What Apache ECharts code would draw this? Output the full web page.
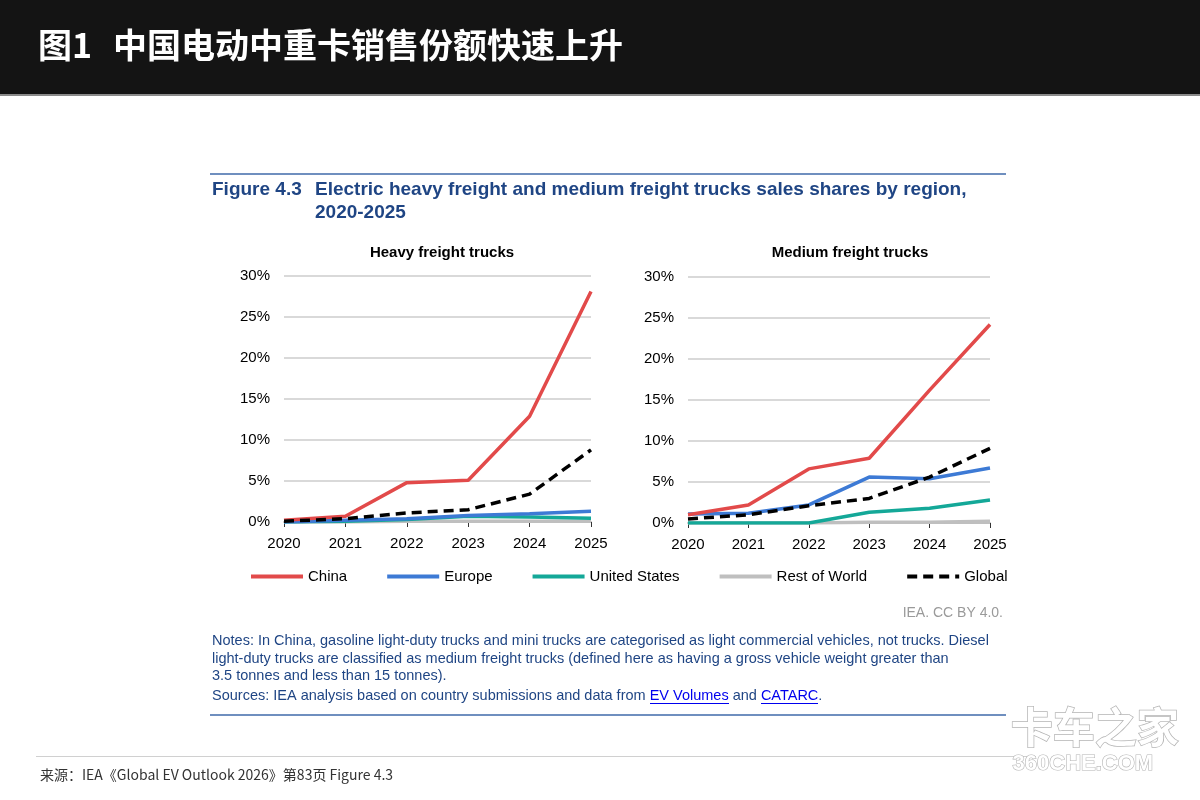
<!DOCTYPE html>
<html>
<head>
<meta charset="utf-8">
<script src="https://cdn.jsdelivr.net/npm/echarts@6/dist/echarts.min.js"></script>
<style>
  html, body { margin: 0; padding: 0; background: #fff; }
  #main { width: 1200px; height: 800px; }
</style>
</head>
<body>
<div id="main"></div>
<script>
var years = ['2020', '2021', '2022', '2023', '2024', '2025'];
var regions = ['China', 'Europe', 'United States', 'Rest of World', 'Global'];

// heavy freight trucks, %
var heavyChina  = [0.2, 0.7, 4.8, 5.1, 12.9, 28.1];
var heavyEurope = [0.0, 0.2, 0.4, 0.8, 1.0, 1.3];
var heavyUS     = [0.0, 0.1, 0.3, 0.7, 0.6, 0.45];
var heavyRow    = [0.0, 0.0, 0.1, 0.1, 0.1, 0.1];
var heavyGlobal = [0.1, 0.4, 1.1, 1.5, 3.4, 8.8];

// medium freight trucks, %
var mediumChina  = [1.0, 2.2, 6.6, 7.9, 16.2, 24.2];
var mediumEurope = [1.1, 1.2, 2.2, 5.6, 5.4, 6.7];
var mediumUS     = [0.0, 0.0, 0.0, 1.3, 1.8, 2.8];
var mediumRow    = [0.0, 0.0, 0.0, 0.1, 0.1, 0.2];
var mediumGlobal = [0.5, 1.0, 2.1, 3.0, 5.6, 9.1];

var colors = {
    'China': '#e24a4a',
    'Europe': '#3d7ad5',
    'United States': '#14a898',
    'Rest of World': '#bfbfbf',
    'Global': '#000000'
};

var font = 'Liberation Sans, Arial, sans-serif';
var cjk = 'Noto Sans CJK SC, sans-serif';
var navy = '#1f4584';

var myChart = echarts.init(document.getElementById('main'));

function xAxisFor(gridIndex) {
    return {
        type: 'category',
        gridIndex: gridIndex,
        data: years,
        boundaryGap: false,
        axisLine: { lineStyle: { color: '#bfbfbf', width: 2 } },
        axisTick: { show: true, length: 5, lineStyle: { color: '#333' } },
        axisLabel: { color: '#000', fontSize: 15, fontFamily: font, margin: 14 },
        splitLine: { show: false }
    };
}

function yAxisFor(gridIndex) {
    return {
        type: 'value',
        gridIndex: gridIndex,
        min: 0,
        max: 30,
        interval: 5,
        axisLine: { show: false },
        axisTick: { show: false },
        axisLabel: { color: '#000', fontSize: 15, fontFamily: font, margin: 14, formatter: '{value}%' },
        splitLine: { lineStyle: { color: '#d9d9d9', width: 2 } }
    };
}

function line(name, data, idx) {
    var isGlobal = name === 'Global';
    return {
        name: name,
        type: 'line',
        xAxisIndex: idx,
        yAxisIndex: idx,
        data: data,
        symbol: 'none',
        animation: false,
        z: isGlobal ? 5 : 3,
        lineStyle: {
            color: colors[name],
            width: 3.5,
            type: isGlobal ? [10, 6] : 'solid'
        },
        itemStyle: { color: colors[name] }
    };
}

option = {
    backgroundColor: '#fff',
    animation: false,
    legend: {
        data: regions,
        left: 244,
        top: 564,
        itemWidth: 52,
        itemHeight: 14,
        itemGap: 38,
        itemStyle: { opacity: 0 },
        lineStyle: { width: 4 },
        textStyle: { color: '#000', fontSize: 15, fontFamily: font }
    },
    grid: [
        { left: 284, right: 609, top: 276, bottom: 278 },
        { left: 688, right: 210, top: 277, bottom: 277 }
    ],
    xAxis: [xAxisFor(0), xAxisFor(1)],
    yAxis: [yAxisFor(0), yAxisFor(1)],
    series: [
        line('Rest of World', heavyRow, 0),
        line('United States', heavyUS, 0),
        line('Europe', heavyEurope, 0),
        line('China', heavyChina, 0),
        line('Global', heavyGlobal, 0),
        line('Rest of World', mediumRow, 1),
        line('United States', mediumUS, 1),
        line('Europe', mediumEurope, 1),
        line('China', mediumChina, 1),
        line('Global', mediumGlobal, 1)
    ],
    graphic: [
        // black header bar
        { type: 'rect', left: 0, top: 0, shape: { width: 1200, height: 95 }, style: { fill: '#141414' }, z: 0 },
        { type: 'rect', left: 0, top: 94, shape: { width: 1200, height: 2 }, style: { fill: '#8a8a8a' }, z: 0 },
        { type: 'text', left: 38, top: 28, style: { text: '图1', fill: '#fff', font: 'bold 34px ' + cjk } },
        { type: 'text', left: 113, top: 28, style: { text: '中国电动中重卡销售份额快速上升', fill: '#fff', font: 'bold 34px ' + cjk } },

        // figure header
        { type: 'rect', left: 210, top: 173, shape: { width: 796, height: 2 }, style: { fill: '#6f8fbf' } },
        { type: 'text', left: 212, top: 180, style: { text: 'Figure 4.3', fill: navy, font: 'bold 19px ' + font } },
        { type: 'text', left: 315, top: 180, style: { text: 'Electric heavy freight and medium freight trucks sales shares by region,', fill: navy, font: 'bold 19px ' + font } },
        { type: 'text', left: 315, top: 203, style: { text: '2020-2025', fill: navy, font: 'bold 19px ' + font } },

        // panel titles
        { type: 'text', x: 442, y: 253, style: { text: 'Heavy freight trucks', fill: '#000', font: 'bold 15px ' + font, textAlign: 'center', textVerticalAlign: 'middle' } },
        { type: 'text', x: 850, y: 253, style: { text: 'Medium freight trucks', fill: '#000', font: 'bold 15px ' + font, textAlign: 'center', textVerticalAlign: 'middle' } },

        // credit and notes
        { type: 'text', right: 197, top: 606, style: { text: 'IEA. CC BY 4.0.', fill: '#9a9a9a', font: '14px ' + font } },
        { type: 'text', left: 212, top: 633, style: { text: 'Notes: In China, gasoline light-duty trucks and mini trucks are categorised as light commercial vehicles, not trucks. Diesel', fill: navy, font: '14.5px ' + font } },
        { type: 'text', left: 212, top: 651, style: { text: 'light-duty trucks are classified as medium freight trucks (defined here as having a gross vehicle weight greater than', fill: navy, font: '14.5px ' + font } },
        { type: 'text', left: 212, top: 668, style: { text: '3.5 tonnes and less than 15 tonnes).', fill: navy, font: '14.5px ' + font } },
        {
            type: 'text', left: 212, top: 688,
            style: {
                text: 'Sources: IEA analysis based on country submissions and data from {a|EV Volumes} and {a|CATARC}.',
                fill: navy, font: '14.5px ' + font,
                rich: { a: { fill: '#0000ee', fontSize: 14.5, fontFamily: font } }
            }
        },
        { type: 'rect', left: 650, top: 703, shape: { width: 79, height: 1 }, style: { fill: '#0000ee' } },
        { type: 'rect', left: 761, top: 703, shape: { width: 57, height: 1 }, style: { fill: '#0000ee' } },
        { type: 'rect', left: 210, top: 714, shape: { width: 796, height: 2 }, style: { fill: '#6f8fbf' } },

        // footer
        { type: 'rect', left: 36, top: 756, shape: { width: 1000, height: 1 }, style: { fill: '#d0d0d0' } },
        { type: 'text', left: 40, top: 768, style: { text: '来源：IEA《Global EV Outlook 2026》第83页 Figure 4.3', fill: '#333', font: '14px ' + cjk } },

        // watermark
        { type: 'text', left: 1010, top: 705, z: 10, style: { text: '卡车之家', fill: '#ffffff', stroke: '#b5b5b5', lineWidth: 1.5, font: 'bold 42px ' + cjk } },
        { type: 'text', left: 1012, top: 752, z: 10, style: { text: '360CHE.COM', fill: '#ffffff', stroke: '#b5b5b5', lineWidth: 1.2, font: 'bold 22px ' + font } }
    ]
};

myChart.setOption(option);
</script>
</body>
</html>
